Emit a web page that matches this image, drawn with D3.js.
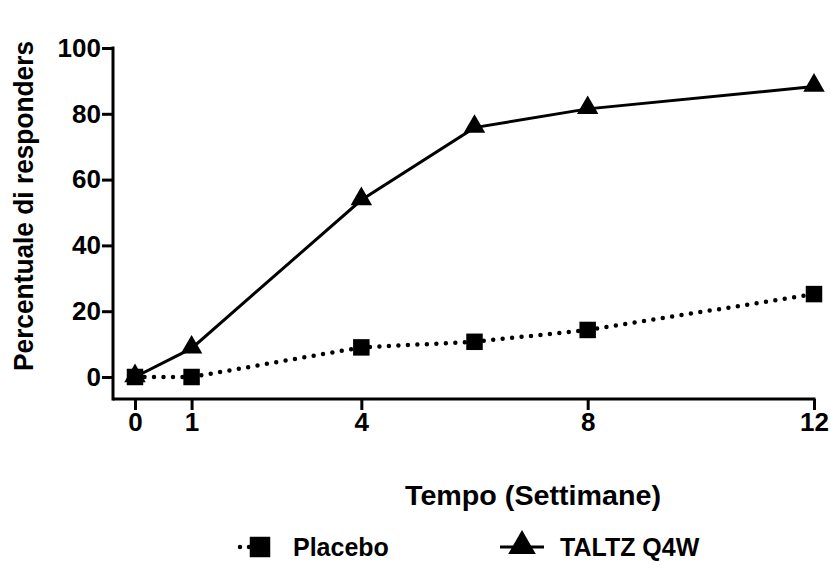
<!DOCTYPE html>
<html>
<head>
<meta charset="utf-8">
<script src="https://cdn.jsdelivr.net/npm/d3@7"></script>
<style>
  body { margin: 0; background: #fff; }
  svg { display: block; }
  text { font-family: "Liberation Sans", Arial, sans-serif; font-weight: bold; fill: #000; }
</style>
</head>
<body>
<svg id="chart" width="831" height="581"></svg>
<script>
const weeks = [0, 1, 4, 6, 8, 12];
const placebo = [0, 0, 9, 10.7, 14.3, 25.2];
const taltz = [0, 8.7, 53.8, 75.8, 81.5, 88.3];
const xTicks = [0, 1, 4, 8, 12];
const yTicks = [0, 20, 40, 60, 80, 100];
const seriesNames = ["Placebo", "TALTZ Q4W"];
const xTitle = "Tempo (Settimane)";
const yTitle = "Percentuale di responders";

const svg = d3.select("#chart");
const axisLeft = 113, axisBottom = 399;

const x = d3.scaleLinear().domain([0, 12]).range([135, 814]);
const y = d3.scaleLinear().domain([0, 100]).range([377, 48]);

// Axes
const gx = svg.append("g").attr("transform", `translate(0,${axisBottom})`)
  .call(d3.axisBottom(x).tickValues(xTicks).tickSize(11).tickSizeOuter(0).tickPadding(3));
const gy = svg.append("g").attr("transform", `translate(${axisLeft},0)`)
  .call(d3.axisLeft(y).tickValues(yTicks).tickSize(11).tickSizeOuter(0).tickPadding(1));
[gx, gy].forEach(g => {
  g.selectAll("path.domain").remove();
  g.selectAll(".tick line").attr("stroke", "#000").attr("stroke-width", 3);
  g.selectAll(".tick text").style("font-size", "26px").style("font-family", "'Liberation Sans', Arial, sans-serif").style("font-weight", "bold").attr("fill", "#000");
});
// axis lines
svg.append("line").attr("x1", axisLeft).attr("x2", x(12) + 1.5).attr("y1", axisBottom).attr("y2", axisBottom)
  .attr("stroke", "#000").attr("stroke-width", 3);
svg.append("line").attr("x1", axisLeft).attr("x2", axisLeft).attr("y1", y(100) - 1.5).attr("y2", axisBottom + 1.5)
  .attr("stroke", "#000").attr("stroke-width", 3);

// Lines
const line = d3.line().x(d => x(d[0])).y(d => y(d[1]));
const pData = weeks.map((w, i) => [w, placebo[i]]);
const tData = weeks.map((w, i) => [w, taltz[i]]);

svg.append("path").datum(pData).attr("d", line).attr("fill", "none")
  .attr("stroke", "#000").attr("stroke-width", 4.5).attr("stroke-linecap", "round")
  .attr("stroke-dasharray", "0 9.5");
svg.append("path").datum(tData).attr("d", line).attr("fill", "none")
  .attr("stroke", "#000").attr("stroke-width", 3);

const sq = d3.symbol().type(d3.symbolSquare).size(272);
const tri = d3.symbol().type(d3.symbolTriangle).size(200);

svg.selectAll(".sq").data(pData).enter().append("path")
  .attr("d", sq).attr("transform", d => `translate(${x(d[0])},${y(d[1])})`).attr("fill", "#000");
svg.selectAll(".tri").data(tData).enter().append("path")
  .attr("d", tri).attr("transform", d => `translate(${x(d[0])},${y(d[1]) - 1})`).attr("fill", "#000");

// Titles
svg.append("text").attr("x", 533).attr("y", 505).attr("text-anchor", "middle")
  .style("font-size", "28px").attr("textLength", 256).attr("lengthAdjust", "spacingAndGlyphs").text(xTitle);
svg.append("text").attr("transform", "translate(33,206) rotate(-90)").attr("text-anchor", "middle")
  .style("font-size", "27px").attr("textLength", 330).attr("lengthAdjust", "spacingAndGlyphs").text(yTitle);

// Legend
const ly = 547;
svg.append("line").attr("x1", 240).attr("x2", 276).attr("y1", ly).attr("y2", ly)
  .attr("stroke", "#000").attr("stroke-width", 4.5).attr("stroke-linecap", "round").attr("stroke-dasharray", "0 9");
svg.append("path").attr("d", d3.symbol().type(d3.symbolSquare).size(420)).attr("transform", `translate(260,${ly})`).attr("fill", "#000");
svg.append("text").attr("x", 293).attr("y", ly + 9).style("font-size", "25px").text(seriesNames[0]);

svg.append("line").attr("x1", 500).attr("x2", 544).attr("y1", ly).attr("y2", ly)
  .attr("stroke", "#000").attr("stroke-width", 3);
svg.append("path").attr("d", d3.symbol().type(d3.symbolTriangle).size(330)).attr("transform", `translate(522,${ly - 1})`).attr("fill", "#000");
svg.append("text").attr("x", 560).attr("y", ly + 9).style("font-size", "25px").text(seriesNames[1]);
</script>
</body>
</html>
